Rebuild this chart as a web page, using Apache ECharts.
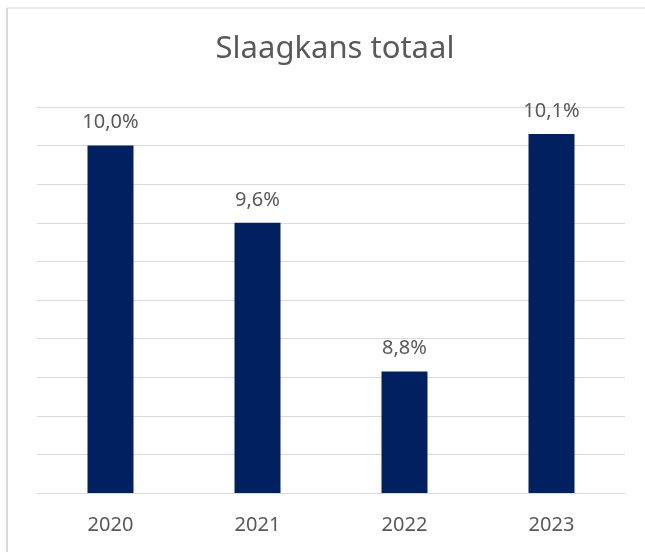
<!DOCTYPE html>
<html>
<head>
<meta charset="utf-8">
<script src="https://cdn.jsdelivr.net/npm/echarts@6/dist/echarts.min.js"></script>
<style>
  html, body { margin: 0; padding: 0; background: #fff; }
  #chart { width: 645px; height: 552px; }
</style>
</head>
<body>
<div id="chart"></div>
<script>
  // jaren en slaagkans (%)
  var years = ['2020', '2021', '2022', '2023'];
  var slaagkans = [10.0, 9.6, 8.83, 10.06];

  var textColor = '#595959';
  var gridColor = '#d9d9d9';

  var myChart = echarts.init(document.getElementById('chart'));
  var option = {
    animation: false,
    backgroundColor: '#fff',
    title: {
      text: 'Slaagkans totaal',
      left: 330,
      textAlign: 'center',
      top: 29,
      textStyle: {
        color: textColor,
        fontFamily: 'Noto Sans',
        fontSize: 31,
        fontWeight: 'normal'
      }
    },
    graphic: [
      { type: 'line', shape: { x1: 7, y1: 8, x2: 645, y2: 8 }, style: { stroke: gridColor, lineWidth: 1 } },
      { type: 'line', shape: { x1: 7, y1: 8, x2: 7, y2: 552 }, style: { stroke: gridColor, lineWidth: 2 } }
    ],
    grid: { left: 37, right: 20, top: 107, bottom: 59 },
    xAxis: {
      type: 'category',
      data: years,
      axisLine: { show: true, lineStyle: { color: gridColor, width: 1 } },
      axisTick: { show: false },
      axisLabel: { color: textColor, fontFamily: 'Noto Sans', fontSize: 20, margin: 22 }
    },
    yAxis: {
      type: 'value',
      min: 8.2,
      max: 10.2,
      interval: 0.2,
      axisLabel: { show: false },
      axisLine: { show: false },
      axisTick: { show: false },
      splitLine: { lineStyle: { color: gridColor, width: 1 } }
    },
    series: [{
      type: 'bar',
      data: slaagkans,
      barWidth: 46,
      itemStyle: { color: '#002060' },
      label: {
        show: true,
        position: 'top',
        distance: 13,
        color: textColor,
        fontFamily: 'Noto Sans',
        fontSize: 20,
        formatter: function (p) { return p.value.toFixed(1).replace('.', ',') + '%'; }
      }
    }]
  };
  myChart.setOption(option);
</script>
</body>
</html>
